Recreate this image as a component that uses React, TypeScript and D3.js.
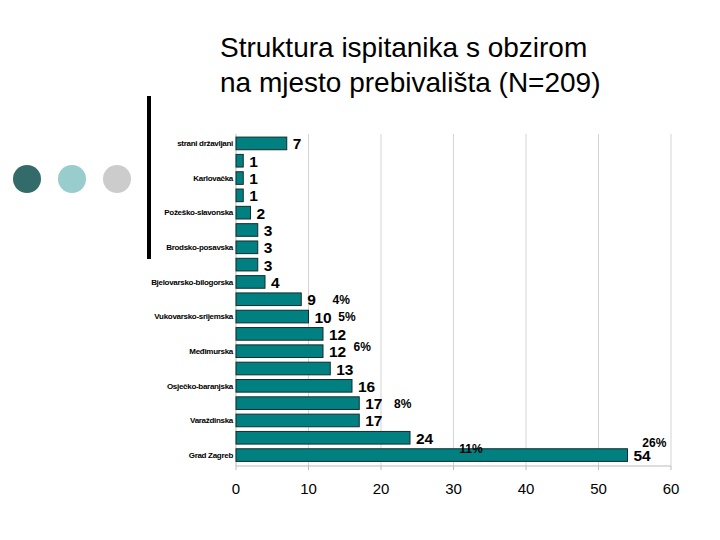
import React from "react";
import * as d3 from "d3";

const categories = [
  "strani državljani", "", "Karlovačka", "", "Požeško-slavonska", "", "Brodsko-posavska", "",
  "Bjelovarsko-bilogorska", "", "Vukovarsko-srijemska", "", "Međimurska", "", "Osječko-baranjska", "",
  "Varaždinska", "", "Grad Zagreb",
];
const values = [7, 1, 1, 1, 2, 3, 3, 3, 4, 9, 10, 12, 12, 13, 16, 17, 17, 24, 54];
const xTicks = [0, 10, 20, 30, 40, 50, 60];
const percentLabels = [
  { text: "4%", value: 14.5, index: 9 },
  { text: "5%", value: 15.3, index: 10 },
  { text: "6%", value: 17.4, index: 11.75 },
  { text: "8%", value: 23, index: 15 },
  { text: "11%", value: 32.4, index: 17.6 },
  { text: "26%", value: 57.7, index: 17.3 },
];
const title = ["Struktura ispitanika s obzirom", "na mjesto prebivališta (N=209)"];
const dotColors = ["#336b6b", "#99cccc", "#cccccc"];

export default function App() {
  const W = 720, H = 540;
  const x = d3.scaleLinear().domain([0, 60]).range([236, 671]);
  const y = d3.scaleBand<number>().domain(d3.range(values.length)).range([134.5, 464]).paddingInner(0.27).paddingOuter(0.15);
  const step = y.step();
  const yc = (i: number) => (y(Math.floor(i)) as number) + y.bandwidth() / 2 + (i - Math.floor(i)) * step;
  const font = "Arial, 'Liberation Sans', sans-serif";
  return (
    <svg width={W} height={H} style={{ position: "absolute", left: 0, top: 0, background: "#fff" }} fontFamily={font}>
      <rect x={0} y={0} width={W} height={H} fill="#fff" />
      {title.map((t, i) => (
        <text key={i} x={220} y={57 + i * 35} fontSize={28} fill="#000">{t}</text>
      ))}
      {dotColors.map((c, i) => (
        <circle key={i} cx={27 + i * 45} cy={179} r={14} fill={c} />
      ))}
      <rect x={147} y={96} width={4} height={163} fill="#000" />
      {xTicks.map((t) => (
        <g key={t}>
          <line x1={x(t)} x2={x(t)} y1={134} y2={466} stroke={t === 0 ? "#bbbbbb" : "#d4d4d4"} strokeWidth={1} />
          <line x1={x(t)} x2={x(t)} y1={466} y2={470} stroke="#bbbbbb" />
          <text x={x(t)} y={494} fontSize={15} textAnchor="middle" fill="#000">{t}</text>
        </g>
      ))}
      <line x1={x(0)} x2={x(60)} y1={466} y2={466} stroke="#bbbbbb" />
      {values.map((v, i) => (
        <g key={i}>
          <rect x={x(0)} y={y(i)} width={x(v) - x(0)} height={y.bandwidth()} fill="#008080" stroke="#142c2c" strokeWidth={1} />
          <text x={x(v) + 6} y={yc(i) + 6} fontSize={15.5} fontWeight="bold" fill="#000">{v}</text>
          {categories[i] && (
            <text x={233} y={yc(i) + 2.8} fontSize={8} fontWeight="bold" textAnchor="end" fill="#000" letterSpacing={-0.3}>{categories[i]}</text>
          )}
        </g>
      ))}
      {percentLabels.map((p, i) => (
        <text key={i} x={x(p.value)} y={yc(p.index) + 4.5} fontSize={12} fontWeight="bold" textAnchor="middle" fill="#000">{p.text}</text>
      ))}
    </svg>
  );
}
